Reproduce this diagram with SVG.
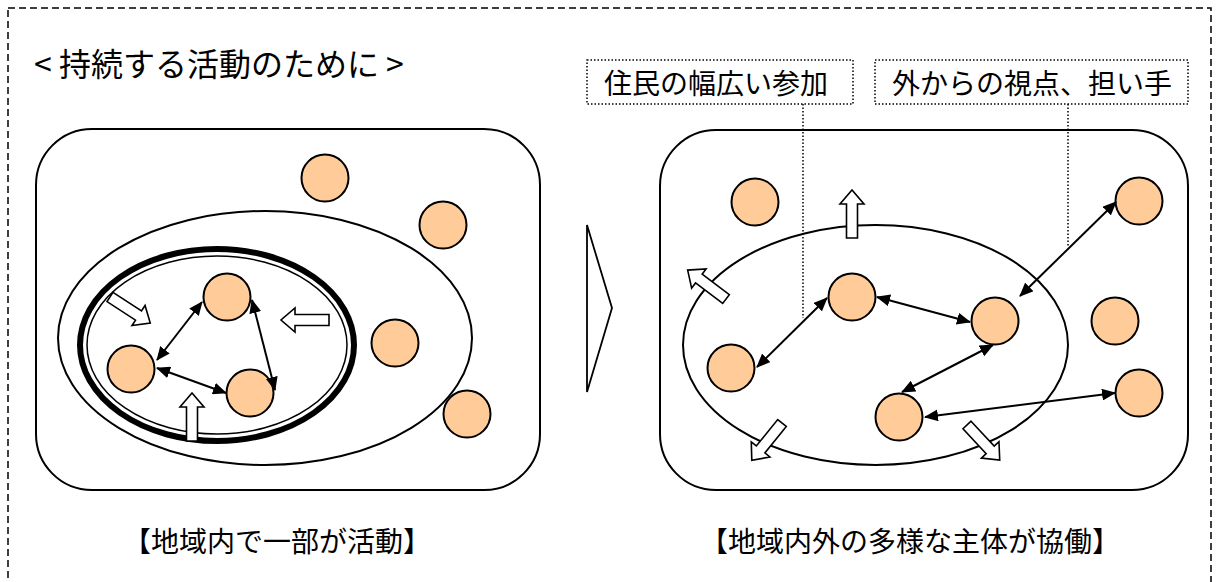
<svg xmlns="http://www.w3.org/2000/svg" xmlns:xlink="http://www.w3.org/1999/xlink" width="1217" height="582" viewBox="0 0 1217 582">
<style>
.txt{font-family:"Noto Sans CJK JP","Noto Sans",sans-serif;fill:#000}
.panel{fill:#fff;stroke:#000;stroke-width:2}
.ell{fill:none;stroke:#000;stroke-width:2}
.node{fill:#FFCC99;stroke:#000;stroke-width:2}
.dbl{stroke:#000;stroke-width:2;fill:none;marker-start:url(#ah);marker-end:url(#ah)}
.blk{fill:#fff;stroke:#000;stroke-width:1.6;stroke-linejoin:miter}
.dot{fill:none;stroke:#000;stroke-width:1.5;stroke-dasharray:1.5,2}
</style>
<defs>
<marker id="ah" viewBox="0 0 14 12" refX="13" refY="6" markerWidth="14" markerHeight="12" markerUnits="userSpaceOnUse" orient="auto-start-reverse">
<path d="M0,0 L14,6 L0,12 Z" fill="#000"/>
</marker>
<path id="barrow" d="M0,-5.5 H34 V-12 L48,0 L34,12 V5.5 H0 Z"/>
</defs>
<rect x="8" y="8" width="1203" height="600" fill="none" stroke="#000" stroke-width="1.5" stroke-dasharray="7,4"/>
<text class="txt" x="34" y="76" font-size="32">&lt; 持続する活動のために &gt;</text>

<g id="left-panel">
<rect class="panel" x="36" y="129" width="504" height="361" rx="56" ry="56"/>
<ellipse class="ell" cx="265" cy="338" rx="207" ry="127"/>
<ellipse cx="217" cy="345" rx="137" ry="96" fill="none" stroke="#000" stroke-width="6"/>
<ellipse cx="217" cy="345" rx="130" ry="89" fill="none" stroke="#000" stroke-width="1.5"/>
</g>
<g id="left-nodes">
<circle class="node" cx="325" cy="178" r="23.5"/>
<circle class="node" cx="443" cy="225" r="23.5"/>
<circle class="node" cx="395" cy="343" r="23.5"/>
<circle class="node" cx="467" cy="414" r="23.5"/>
<circle class="node" cx="227" cy="297" r="23.5"/>
<circle class="node" cx="131" cy="369" r="23.5"/>
<circle class="node" cx="250" cy="393" r="23.5"/>
</g>
<g id="left-block-arrows">
<use href="#barrow" class="blk" transform="translate(110,297) rotate(33)"/>
<use href="#barrow" class="blk" transform="translate(329,320) rotate(180)"/>
<use href="#barrow" class="blk" transform="translate(192,441) rotate(-90)"/>
</g>

<g id="divider">
<path d="M587,225 L612,308 L587,392 Z" fill="#fff" stroke="#000" stroke-width="1.8" stroke-linejoin="miter"/>
</g>

<g id="right-panel">
<rect class="panel" x="660" y="130" width="528" height="360" rx="56" ry="56"/>
<ellipse class="ell" cx="875.5" cy="345" rx="192.5" ry="120"/>
</g>
<g id="right-nodes">
<circle class="node" cx="755" cy="202" r="23.5"/>
<circle class="node" cx="852" cy="297" r="23.5"/>
<circle class="node" cx="731" cy="368" r="23.5"/>
<circle class="node" cx="899" cy="417" r="23.5"/>
<circle class="node" cx="995" cy="321" r="23.5"/>
<circle class="node" cx="1115" cy="321" r="23.5"/>
<circle class="node" cx="1139" cy="201" r="23.5"/>
<circle class="node" cx="1139" cy="393" r="23.5"/>
</g>
<g id="right-block-arrows">
<use href="#barrow" class="blk" transform="translate(852,238) rotate(-90)"/>
<use href="#barrow" class="blk" transform="translate(726,299) rotate(217)"/>
<use href="#barrow" class="blk" transform="translate(782,423) rotate(129)"/>
<use href="#barrow" class="blk" transform="translate(967,425) rotate(47)"/>
</g>

<g id="connectors">
<line class="dbl" x1="202" y1="302" x2="157" y2="360"/>
<line class="dbl" x1="252" y1="300" x2="275" y2="390"/>
<line class="dbl" x1="157" y1="368" x2="226" y2="393"/>
<line class="dbl" x1="757" y1="367" x2="827" y2="298"/>
<line class="dbl" x1="877" y1="297" x2="970" y2="322"/>
<line class="dbl" x1="993" y1="345" x2="902" y2="392"/>
<line class="dbl" x1="1020" y1="296" x2="1116" y2="202"/>
<line class="dbl" x1="925" y1="417" x2="1115" y2="393"/>
<line class="dot" x1="803" y1="104" x2="803" y2="318"/>
<line class="dot" x1="1068" y1="104" x2="1068" y2="246"/>
</g>

<g id="label-participation">
<rect class="dot" x="587" y="60" width="266" height="44" fill="#fff"/>
<text class="txt" x="716" y="94" font-size="28" text-anchor="middle">住民の幅広い参加</text>
</g>
<g id="label-outside">
<rect class="dot" x="875" y="60" width="313" height="44" fill="#fff"/>
<text class="txt" x="1032" y="94" font-size="28" text-anchor="middle">外からの視点、担い手</text>
</g>
<g id="caption-left">
<text class="txt" x="277" y="552" font-size="28" text-anchor="middle">【地域内で一部が活動】</text>
</g>
<g id="caption-right">
<text class="txt" x="910" y="552" font-size="28" text-anchor="middle">【地域内外の多様な主体が協働】</text>
</g>
</svg>
